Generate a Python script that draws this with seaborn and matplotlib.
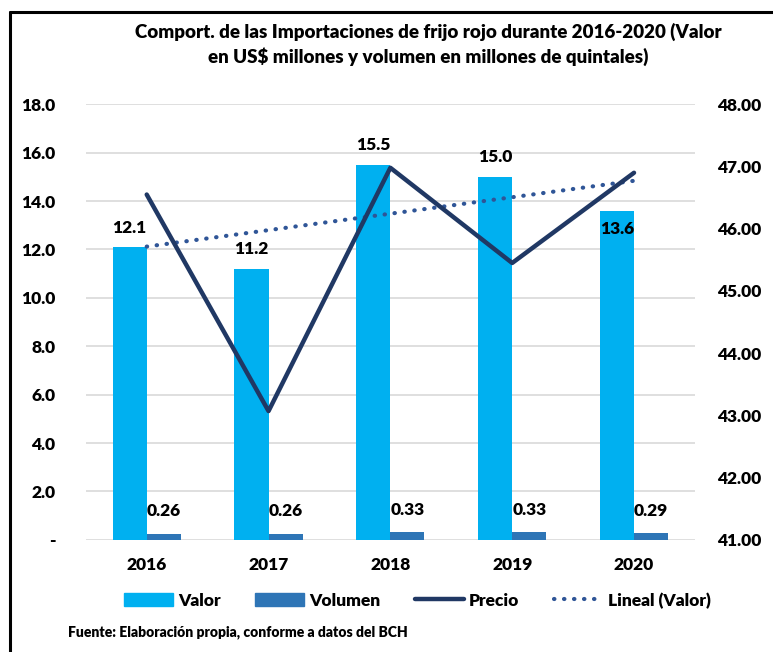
import numpy as np
import pandas as pd
import seaborn as sns
import matplotlib.pyplot as plt
from matplotlib.lines import Line2D
from matplotlib.patches import Patch

# Datos
anios = ['2016', '2017', '2018', '2019', '2020']
valor = [12.1, 11.2, 15.5, 15.0, 13.6]
volumen = [0.26, 0.26, 0.33, 0.33, 0.29]
precio = [46.55, 43.07, 46.98, 45.45, 46.90]

c_valor = '#00B0F0'
c_volumen = '#2E75B6'
c_precio = '#203864'
c_lineal = '#2F5597'

sns.set_theme(style='white')
plt.rcParams['font.family'] = ['Lato', 'DejaVu Sans']
plt.rcParams['font.weight'] = 'heavy'
plt.rcParams['text.color'] = 'black'
plt.rcParams['xtick.color'] = 'black'
plt.rcParams['ytick.color'] = 'black'

df = pd.DataFrame({
    'Año': anios * 2,
    'monto': valor + volumen,
    'serie': ['Valor'] * 5 + ['Volumen'] * 5,
})

fig = plt.figure(figsize=(7.73, 6.52), dpi=100)
ax = fig.add_axes([0.111, 0.172, 0.788, 0.668])

sns.barplot(data=df, x='Año', y='monto', hue='serie', palette=[c_valor, c_volumen],
            width=0.56, gap=0, saturation=1, linewidth=0, ax=ax, legend=False)

ax.set_ylim(0, 18)
ax.set_yticks(np.arange(0, 18.1, 2))
ax.set_yticklabels(['-'] + [f'{v:.1f}' for v in np.arange(2, 18.1, 2)], fontsize=12.5)
ax.set_xlim(-0.5, 4.5)
ax.set_xlabel('')
ax.set_ylabel('')
ax.tick_params(axis='x', labelsize=12.5, length=0, pad=12)
ax.tick_params(axis='y', length=0, pad=22)
ax.grid(axis='y', color='#D9D9D9', linewidth=1.2)
ax.set_axisbelow(True)
for s in ax.spines.values():
    s.set_visible(False)

# etiquetas de barras
x = np.arange(len(anios))
for i, v in enumerate(valor):
    off = -13 if i == 4 else 14
    ax.annotate(f'{v:.1f}', (x[i] - 0.14, v), xytext=(0, off), textcoords='offset points',
                ha='center', va='center', fontsize=12.5, fontweight='heavy')
for i, v in enumerate(volumen):
    ax.annotate(f'{v:.2f}', (x[i] + 0.14, v), xytext=(0, 16), textcoords='offset points',
                ha='center', va='center', fontsize=12.5, fontweight='heavy')

# linea de tendencia (Valor)
coef = np.polyfit(x, valor, 1)
ax.plot(x, np.polyval(coef, x), color=c_lineal, linestyle=(0, (0.1, 2.3)),
        linewidth=3.0, dash_capstyle='round', zorder=3)

# precio en eje secundario
ax2 = ax.twinx()
sns.lineplot(x=x, y=precio, color=c_precio, linewidth=3.2, ax=ax2)
ax2.set_ylim(41, 48)
ax2.set_yticks(np.arange(41, 48.1, 1))
ax2.set_yticklabels([f'{v:.2f}' for v in np.arange(41, 48.1, 1)], fontsize=12.5)
ax2.tick_params(axis='y', length=0, pad=16)
ax2.set_ylabel('')
for s in ax2.spines.values():
    s.set_visible(False)

fig.suptitle('Comport. de las Importaciones de frijo rojo durante 2016-2020 (Valor\n'
             'en US$ millones y volumen en millones de quintales)',
             x=0.554, y=0.965, fontsize=13.5, fontweight='heavy', linespacing=1.4)

handles = [
    Patch(color=c_valor, label='Valor'),
    Patch(color=c_volumen, label='Volumen'),
    Line2D([], [], color=c_precio, linewidth=3.2, label='Precio'),
    Line2D([], [], color=c_lineal, linestyle=(0, (0.1, 2.3)), linewidth=3.0,
           dash_capstyle='round', label='Lineal (Valor)'),
]
fig.legend(handles=handles, loc='center', bbox_to_anchor=(0.54, 0.079), ncol=4,
           frameon=False, fontsize=12.5, handlelength=2.8, handleheight=0.8,
           columnspacing=2.0, handletextpad=0.3)

fig.text(0.088, 0.031, 'Fuente: Elaboración propia, conforme a datos del BCH',
         fontsize=10, fontweight='heavy', va='center')

# marco
fig.add_artist(Line2D([0.013, 0.013], [0, 0.982], color='black', linewidth=2.2,
                      transform=fig.transFigure))
fig.add_artist(Line2D([0.013, 1.0], [0.982, 0.982], color='black', linewidth=2.2,
                      transform=fig.transFigure))

fig.savefig('out.png', dpi=100)
